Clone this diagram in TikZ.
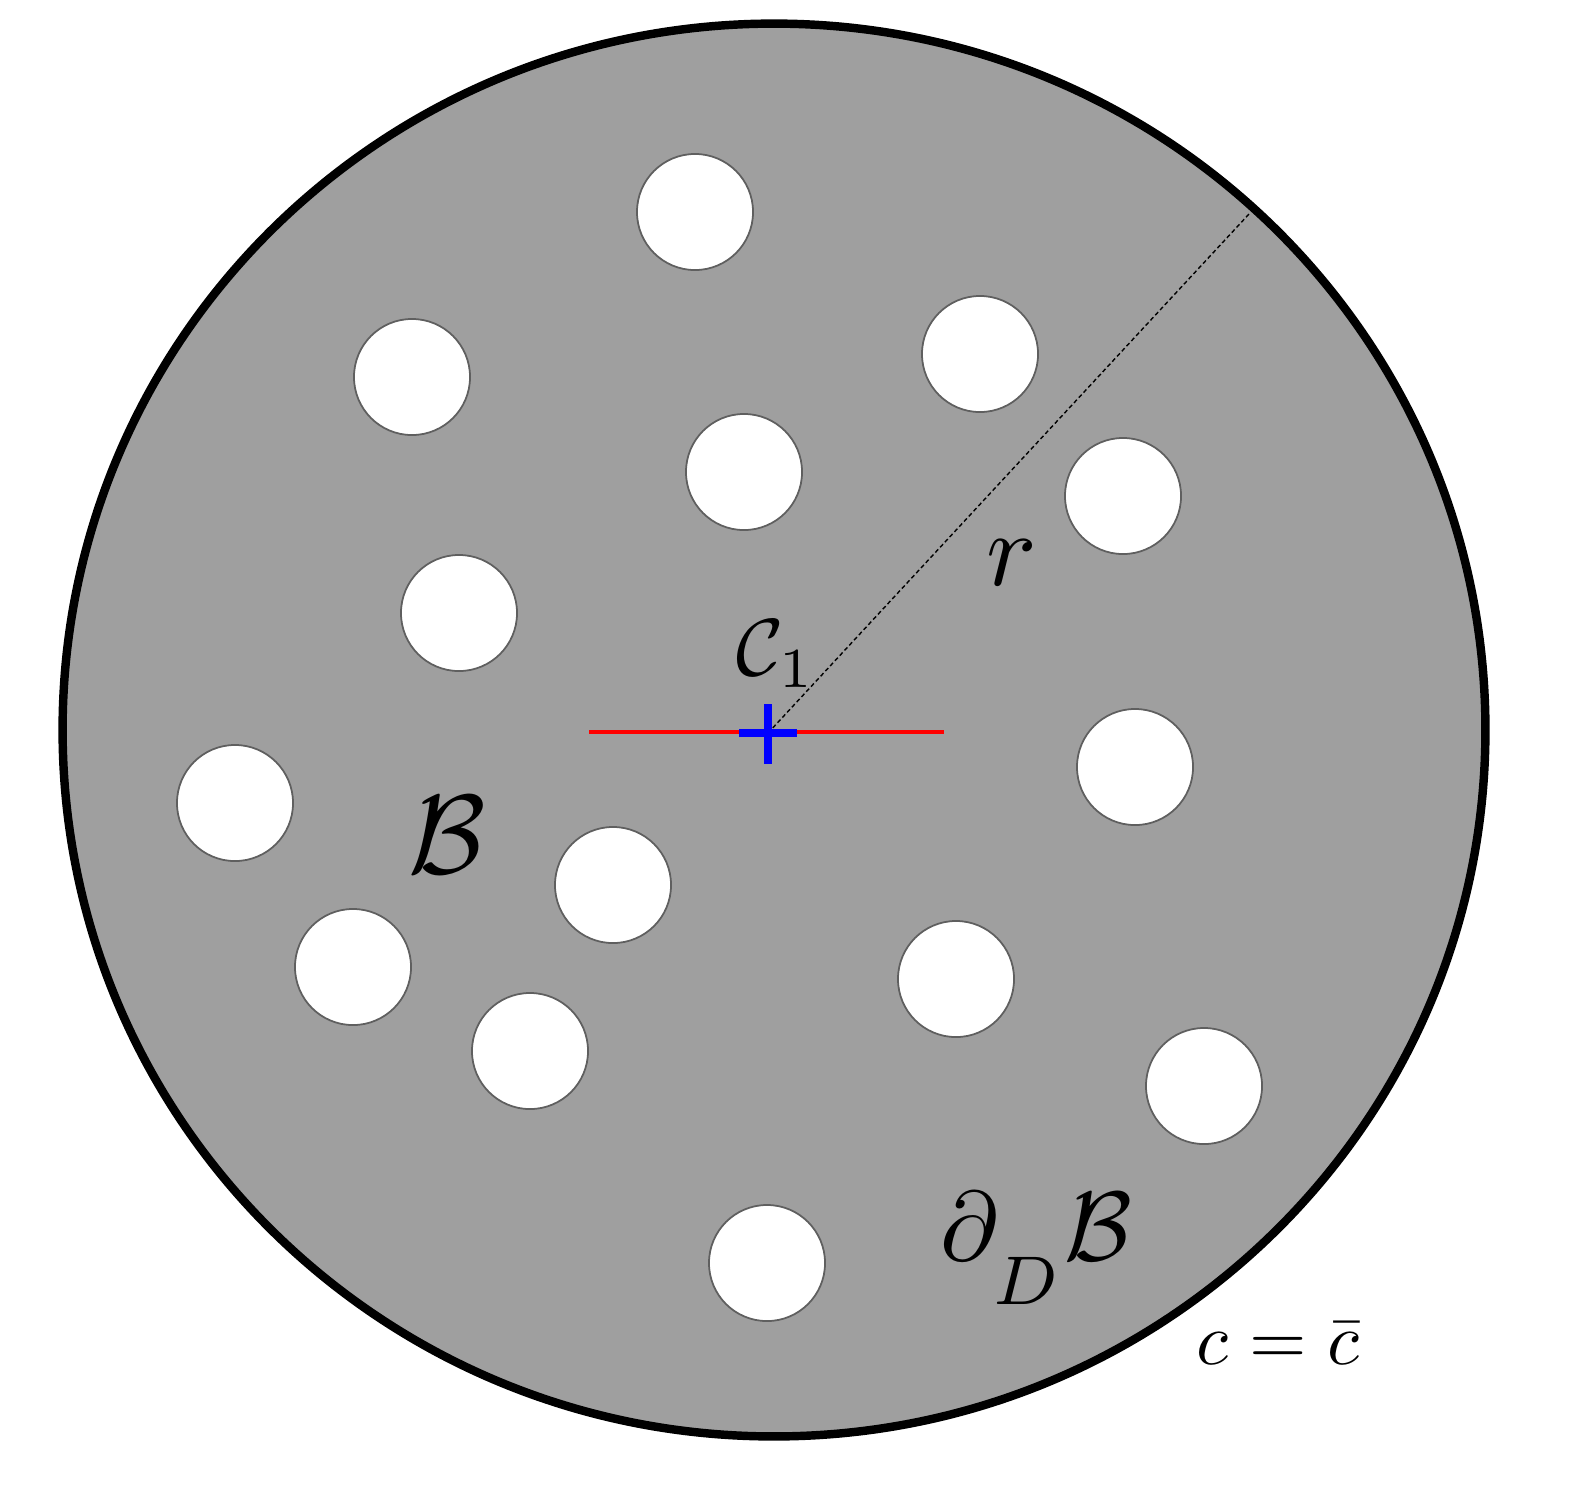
\documentclass[tikz,border=0pt]{standalone}
\usepackage{amsmath}
\usepackage{amssymb}
\usepackage{graphicx}
\usepackage{tikz}
\usetikzlibrary{positioning, calc}
\definecolor{bodygray}{RGB}{159, 159, 159}
\definecolor{holeedge}{RGB}{95, 95, 95}
\definecolor{centreblue}{RGB}{0, 0, 255}
\definecolor{axisred}{RGB}{255, 0, 0}

\begin{document}
\begin{tikzpicture}[
  x=0.01cm, y=-0.01cm,
  body/.style={draw=black, fill=bodygray, line width=2.4pt},
  hole/.style={circle, draw=holeedge, fill=white, line width=0.5pt,
               minimum size=1.16cm, inner sep=0pt},
  axis/.style={axisred, line width=1.2pt},
  cross/.style={centreblue, line width=2.3pt},
  radius line/.style={black, line width=0.4pt, dash pattern=on 1.2pt off 0.8pt},
  lbl/.style={inner sep=0pt, text=black},
]
  \useasboundingbox (0,0) rectangle (1580,1487);

  % domain
  \coordinate (O) at (774,730);
  \draw[body] (O) circle [x radius=7.11cm, y radius=7.06cm];

  % inclusions
  \node[hole] (h1) at (695,212) {};
  \node[hole] (h2) at (412,377) {};
  \node[hole] (h3) at (980,354) {};
  \node[hole] (h4) at (744,472) {};
  \node[hole] (h5) at (1123,496) {};
  \node[hole] (h6) at (459,613) {};
  \node[hole] (h7) at (235,803) {};
  \node[hole] (h8) at (1135,767) {};
  \node[hole] (h9) at (613,885) {};
  \node[hole] (h10) at (353,967) {};
  \node[hole] (h11) at (956,979) {};
  \node[hole] (h12) at (530,1051) {};
  \node[hole] (h13) at (1204,1086) {};
  \node[hole] (h14) at (767,1263) {};

  % centre and radius
  \coordinate (c1) at (768,733);
  \coordinate (redl) at (589,732);
  \coordinate (redr) at (944,732);
  \coordinate (rim) at (1249,214);
  \draw[axis] (redl) -- (redr);
  \draw[radius line] (c1) -- (rim);
  \draw[cross] ($(c1)+(-29,0)$) -- ($(c1)+(29,0)$);
  \draw[cross] ($(c1)+(0,-29)$) -- ($(c1)+(0,31)$);

  % labels
  \node[lbl] (lc1) at (776,654) {\scalebox{2.3}{$\mathcal{C}_1$}};
  \node[lbl] (lr) at (1012,563) {\scalebox{3.0}{$r$}};
  \node[lbl] (lB) at (447,835) {\scalebox{3.2}{$\mathcal{B}$}};
  \node[lbl] (ldB) at (1036,1248)
    {\scalebox{2.8}{$\partial_{\lower 3pt\hbox{$\scriptstyle D$}}\mathcal{B}$}};
  \node[lbl] (lbc) at (1278,1343) {\scalebox{2.1}{$c=\bar{c}$}};
\end{tikzpicture}
\end{document}
